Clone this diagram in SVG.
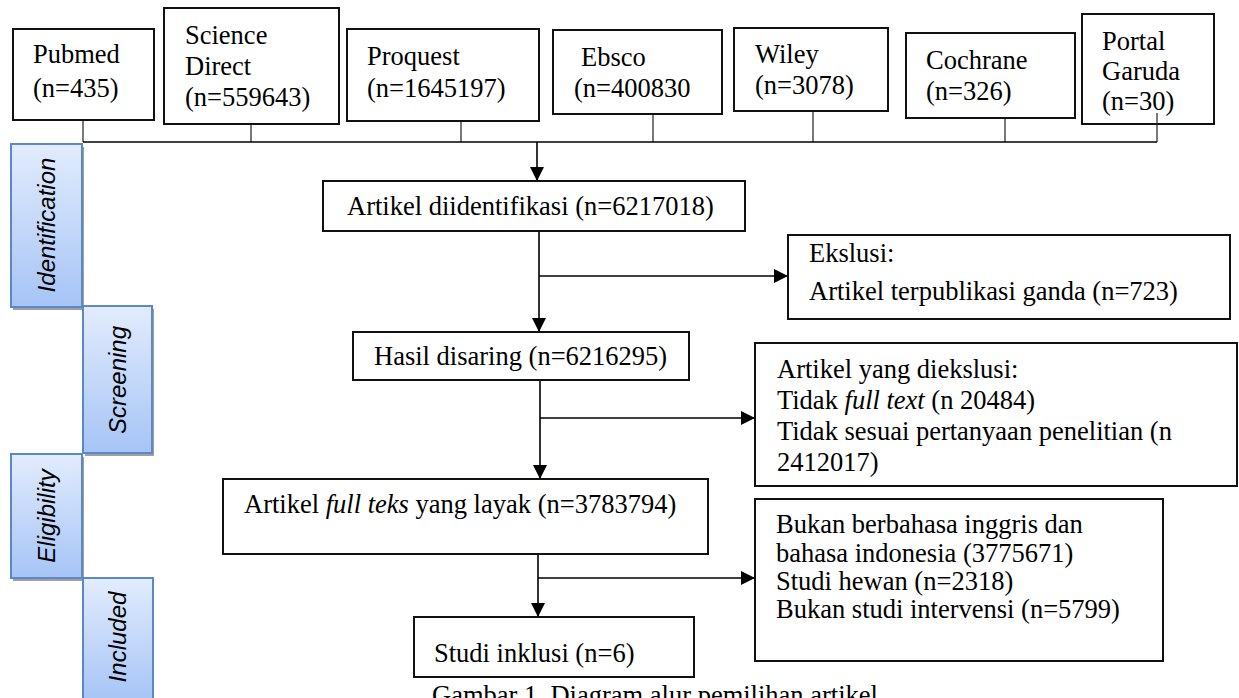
<svg xmlns="http://www.w3.org/2000/svg" width="1239" height="698" viewBox="0 0 1239 698">
<defs>
<linearGradient id="phase" x1="0" y1="0" x2="0" y2="1">
<stop offset="0" stop-color="#e2ecfd"/>
<stop offset="1" stop-color="#a6c4f6"/>
</linearGradient>
<marker id="ah" markerUnits="userSpaceOnUse" markerWidth="14" markerHeight="14" refX="14" refY="7" orient="auto" viewBox="0 0 14 14">
<path d="M0,0 L14,7 L0,14 z" fill="#000"/>
</marker>
</defs>
<style>
.box{fill:#fff;stroke:#111;stroke-width:2}
.t{font-family:"Liberation Serif","Times New Roman",serif;font-size:26.5px;fill:#000}
.i{font-style:italic}
.ph{fill:url(#phase);stroke:#5a88c8;stroke-width:2}
.sh{fill:#a0a0a0}
.pt{font-family:"Liberation Sans",Arial,sans-serif;font-style:italic;font-size:24px;fill:#000;text-anchor:middle}
.ln{fill:none;stroke:#000;stroke-width:1.6}
.tk{fill:none;stroke:#333;stroke-width:1.3}
</style>
<rect width="1239" height="698" fill="#fff"/>

<g id="connectors">
<path class="tk" d="M83,120 V142 M251,124 V142 M461,121 V142 M653,114 V142 M813,111 V142 M1005,118 V142 M1157,113 V142"/>
<path class="ln" d="M83,142 H1157"/>
<path class="ln" d="M537,142 V181" marker-end="url(#ah)"/>
<path class="ln" d="M539,231 V332" marker-end="url(#ah)"/>
<path class="ln" d="M539,276 H788" marker-end="url(#ah)"/>
<path class="ln" d="M540,380 V479" marker-end="url(#ah)"/>
<path class="ln" d="M540,418 H755" marker-end="url(#ah)"/>
<path class="ln" d="M538,554 V617" marker-end="url(#ah)"/>
<path class="ln" d="M538,578 H755" marker-end="url(#ah)"/>
</g>

<g id="pubmed"><rect class="box" x="13" y="29" width="141" height="91"/>
<text class="t" x="33" y="63">Pubmed</text><text class="t" x="33" y="97">(n=435)</text></g>
<g id="sciencedirect"><rect class="box" x="164" y="8" width="175" height="116"/>
<text class="t" x="185" y="44">Science</text><text class="t" x="185" y="75">Direct</text><text class="t" x="185" y="106">(n=559643)</text></g>
<g id="proquest"><rect class="box" x="347" y="29" width="192" height="92"/>
<text class="t" x="367" y="65">Proquest</text><text class="t" x="367" y="97">(n=1645197)</text></g>
<g id="ebsco"><rect class="box" x="553" y="30" width="169" height="84"/>
<text class="t" x="581" y="66">Ebsco</text><text class="t" x="574" y="97">(n=400830</text></g>
<g id="wiley"><rect class="box" x="734" y="28" width="154" height="83"/>
<text class="t" x="755" y="63">Wiley</text><text class="t" x="755" y="94">(n=3078)</text></g>
<g id="cochrane"><rect class="box" x="906" y="33" width="169" height="85"/>
<text class="t" x="926" y="69">Cochrane</text><text class="t" x="926" y="100">(n=326)</text></g>
<g id="portalgaruda"><rect class="box" x="1082" y="14" width="132" height="110"/>
<text class="t" x="1102" y="50">Portal</text><text class="t" x="1102" y="80">Garuda</text><text class="t" x="1102" y="110">(n=30)</text></g>
<path class="tk" d="M1157,113 V124"/>

<g id="phase-identification"><rect class="sh" x="13" y="147" width="71" height="163"/><rect class="ph" x="11" y="144" width="71" height="163"/>
<text class="pt" transform="translate(55,225) rotate(-90)">Identification</text></g>
<g id="phase-screening"><rect class="sh" x="85" y="309" width="69" height="147"/><rect class="ph" x="83" y="306" width="69" height="147"/>
<text class="pt" transform="translate(126,380) rotate(-90)">Screening</text></g>
<g id="phase-eligibility"><rect class="sh" x="13" y="457" width="71" height="124"/><rect class="ph" x="11" y="454" width="71" height="124"/>
<text class="pt" transform="translate(55,516) rotate(-90)">Eligibility</text></g>
<g id="phase-included"><rect class="ph" x="83" y="578" width="70" height="124"/>
<text class="pt" transform="translate(126,637) rotate(-90)">Included</text></g>

<g id="identified"><rect class="box" x="323" y="181" width="422" height="50"/>
<text class="t" x="347" y="215">Artikel diidentifikasi (n=6217018)</text></g>
<g id="exclusion1"><rect class="box" x="788" y="235" width="442" height="84"/>
<text class="t" x="809" y="262">Ekslusi:</text><text class="t" x="809" y="300">Artikel terpublikasi ganda (n=723)</text></g>
<g id="screened"><rect class="box" x="353" y="332" width="336" height="48"/>
<text class="t" x="374" y="365">Hasil disaring (n=6216295)</text></g>
<g id="exclusion2"><rect class="box" x="755" y="343" width="482" height="143"/>
<text class="t" x="777" y="378">Artikel yang diekslusi:</text>
<text class="t" x="777" y="409">Tidak <tspan class="i">full text</tspan> (n 20484)</text>
<text class="t" x="777" y="440">Tidak sesuai pertanyaan penelitian (n</text>
<text class="t" x="777" y="471">2412017)</text></g>
<g id="eligible"><rect class="box" x="223" y="479" width="485" height="75"/>
<text class="t" x="244" y="513">Artikel <tspan class="i">full teks</tspan> yang layak (n=3783794)</text></g>
<g id="exclusion3"><rect class="box" x="755" y="499" width="408" height="162"/>
<text class="t" x="776" y="533">Bukan berbahasa inggris dan</text>
<text class="t" x="776" y="562">bahasa indonesia (3775671)</text>
<text class="t" x="776" y="590">Studi hewan (n=2318)</text>
<text class="t" x="776" y="618">Bukan studi intervensi (n=5799)</text></g>
<g id="included"><rect class="box" x="414" y="617" width="280" height="60"/>
<text class="t" x="434" y="662">Studi inklusi (n=6)</text></g>

<text class="t" x="432" y="704">Gambar 1. Diagram alur pemilihan artikel</text>
</svg>
